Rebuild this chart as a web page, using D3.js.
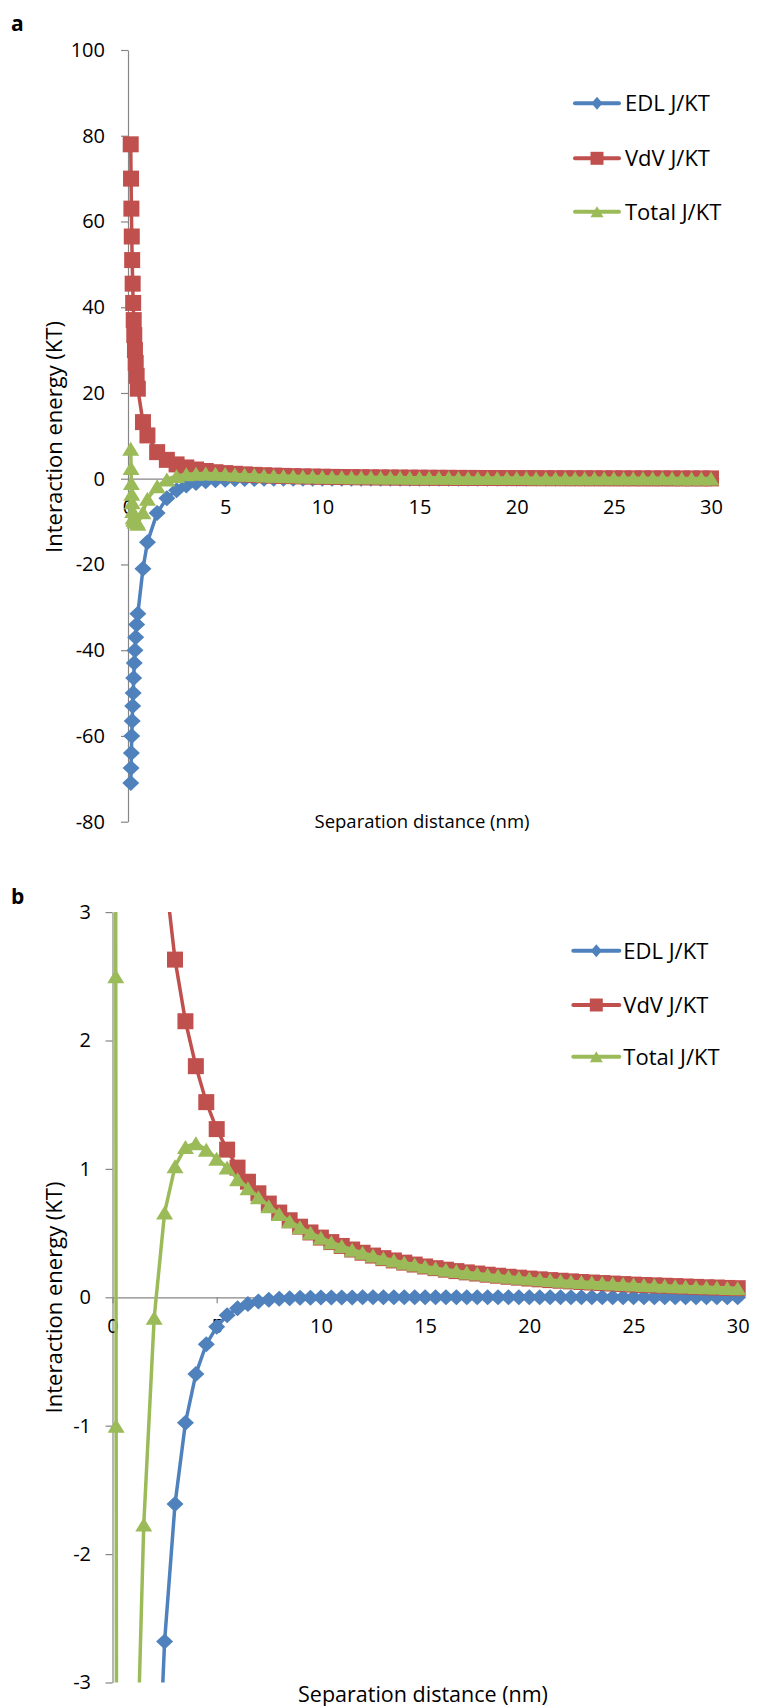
<!DOCTYPE html>
<html>
<head>
<meta charset="utf-8">
<script src="https://cdn.jsdelivr.net/npm/d3@7"></script>
<style>
  body { margin: 0; background: #fff; }
  svg { display: block; }
  text { font-family: "Open Sans", "Noto Sans", sans-serif; fill: #000; }
</style>
</head>
<body>
<svg id="fig" width="763" height="1706"></svg>
<script>
// Separation distance h (nm)
const distance = [0.14, 0.157, 0.175, 0.194, 0.215, 0.24, 0.266, 0.294, 0.323, 0.358, 0.397, 0.445, 0.506,
  0.77, 1, 1.5, 2, 2.5, 3, 3.5, 4, 4.5, 5, 5.5, 6, 6.5, 7, 7.5, 8, 8.5, 9, 9.5, 10, 10.5, 11, 11.5,
  12, 12.5, 13, 13.5, 14, 14.5, 15, 15.5, 16, 16.5, 17, 17.5, 18, 18.5, 19, 19.5, 20, 20.5, 21, 21.5,
  22, 22.5, 23, 23.5, 24, 24.5, 25, 25.5, 26, 26.5, 27, 27.5, 28, 28.5, 29, 29.5, 30];

// Electrical double layer interaction (kT)
const edlEnergy = [-71, -67.5, -64, -60, -56.5, -53, -50, -46.5, -43, -40, -37, -34, -31.5,
  -21, -14.8, -7.97, -4.56, -2.68, -1.61, -0.977, -0.597, -0.366, -0.23, -0.14,
  -0.086, -0.053, -0.032, -0.02, -0.012, -0.007, -0.004, -0.003, -0.002, -0.001, -0.001, -0.001,
  0, 0, 0, 0, 0, 0, 0, 0, 0, 0, 0, 0, 0, 0, 0, 0, 0, 0, 0, 0,
  0, 0, 0, 0, 0, 0, 0, 0, 0, 0, 0, 0, 0, 0, 0, 0, 0];

// van der Waals interaction (kT)
const vdvEnergy = [78, 70, 63, 56.5, 51, 45.5, 41, 37, 33.5, 30, 27, 24, 21,
  13.2, 10.1, 6.2, 4.4, 3.34, 2.63, 2.15, 1.80, 1.52, 1.31, 1.15,
  1.01, 0.90, 0.81, 0.73, 0.66, 0.60, 0.55, 0.505, 0.465, 0.43, 0.40, 0.372,
  0.347, 0.325, 0.305, 0.287, 0.27, 0.255, 0.24, 0.227, 0.215, 0.204, 0.194, 0.185, 0.176, 0.168, 0.16, 0.153,
  0.146, 0.14, 0.134, 0.129, 0.124, 0.119, 0.115, 0.111, 0.107, 0.103, 0.099, 0.096, 0.093, 0.09, 0.087, 0.084,
  0.081, 0.078, 0.076, 0.073, 0.071];

// Total interaction (kT)
const totalEnergy = [7, 2.5, -1, -3.5, -5.5, -7.5, -9, -9.5, -9.5, -10, -10, -10, -10.5,
  -7.8, -4.7, -1.77, -0.16, 0.66, 1.02, 1.17, 1.2, 1.15, 1.08, 1.01,
  0.92, 0.85, 0.78, 0.71, 0.648, 0.593, 0.546, 0.502, 0.463, 0.429, 0.399, 0.371,
  0.347, 0.325, 0.305, 0.287, 0.27, 0.255, 0.24, 0.227, 0.215, 0.204, 0.194, 0.185, 0.176, 0.168, 0.16, 0.153,
  0.146, 0.14, 0.134, 0.129, 0.124, 0.119, 0.115, 0.111, 0.107, 0.103, 0.099, 0.096, 0.093, 0.09, 0.087, 0.084,
  0.081, 0.078, 0.076, 0.073, 0.071];

const seriesNames = ["EDL J/KT", "VdV J/KT", "Total J/KT"];
const seriesColors = ["#4F81BD", "#C0504D", "#9BBB59"];
const seriesShapes = ["diamond", "square", "triangle"];

const xTicks = [0, 5, 10, 15, 20, 25, 30];
const yTicksA = [-80, -60, -40, -20, 0, 20, 40, 60, 80, 100];
const yTicksB = [-3, -2, -1, 0, 1, 2, 3];

const xTitle = "Separation distance (nm)";
const yTitle = "Interaction energy (KT)";

const svg = d3.select("#fig");
const axisColor = "#868686";

function markerPath(shape, w, h) {
  const hw = w / 2, hh = h / 2;
  if (shape === "diamond") return `M0,${-hh}L${hw},0L0,${hh}L${-hw},0Z`;
  if (shape === "square") return `M${-hw},${-hh}H${hw}V${hh}H${-hw}Z`;
  return `M0,${-hh}L${hw},${hh}L${-hw},${hh}Z`;
}
const chartMarker = {
  diamond: markerPath("diamond", 17, 16),
  square: markerPath("square", 16, 16),
  triangle: markerPath("triangle", 17, 14)
};
const legendMarker = {
  diamond: markerPath("diamond", 11, 13),
  square: markerPath("square", 13, 13),
  triangle: markerPath("triangle", 13, 11)
};

const series = [edlEnergy, vdvEnergy, totalEnergy].map((vals, i) => ({
  name: seriesNames[i], color: seriesColors[i], shape: seriesShapes[i],
  points: distance.map((d, j) => ({ x: d, y: vals[j] }))
}));

function drawPanel(cfg) {
  const g = svg.append("g");
  const x = d3.scaleLinear().domain([0, 30]).range(cfg.xRange);
  const y = d3.scaleLinear().domain(cfg.yDomain).range(cfg.yRange);

  // y axis
  const yAxis = g.append("g")
    .attr("transform", `translate(${cfg.xRange[0]},0)`)
    .call(d3.axisLeft(y).tickValues(cfg.yTicks).tickSize(7).tickSizeOuter(0)
      .tickPadding(cfg.yPad).tickFormat(d => String(d)));
  // x axis crossing at zero
  const xAxis = g.append("g")
    .attr("transform", `translate(0,${y(0)})`)
    .call(d3.axisBottom(x).tickValues(xTicks).tickSize(6).tickSizeOuter(0)
      .tickPadding(15.5).tickFormat(d => String(d)));
  [yAxis, xAxis].forEach(ax => {
    ax.attr("font-family", null).attr("font-size", null);
    ax.select(".domain").attr("stroke", axisColor).attr("stroke-width", 1.2);
    ax.selectAll(".tick line").attr("stroke", axisColor).attr("stroke-width", 1.2);
    ax.selectAll(".tick text").attr("fill", "#000").style("font-size", "20px");
  });

  const clipId = "clip-" + cfg.id;
  g.append("clipPath").attr("id", clipId).append("rect")
    .attr("x", cfg.xRange[0]).attr("y", cfg.yRange[1])
    .attr("width", cfg.xRange[1] - cfg.xRange[0]).attr("height", cfg.yRange[0] - cfg.yRange[1]);

  const line = d3.line().x(d => x(d.x)).y(d => y(d.y));
  const [lo, hi] = cfg.yDomain;
  series.forEach(s => {
    const sg = g.append("g");
    const path = sg.append("path").datum(s.points)
      .attr("d", line).attr("fill", "none")
      .attr("stroke", s.color).attr("stroke-width", 3.5).attr("stroke-linejoin", "round");
    if (cfg.clip) path.attr("clip-path", `url(#${clipId})`);
    sg.selectAll("path.mk")
      .data(s.points.filter(p => p.y >= lo && p.y <= hi))
      .join("path").attr("class", "mk")
      .attr("transform", p => `translate(${x(p.x)},${y(p.y)})`)
      .attr("d", chartMarker[s.shape])
      .attr("fill", s.color);
  });

  // legend
  series.forEach((s, i) => {
    const ry = cfg.legendRows[i];
    g.append("line").attr("x1", cfg.legendLine[0]).attr("x2", cfg.legendLine[1])
      .attr("y1", ry).attr("y2", ry).attr("stroke", s.color).attr("stroke-width", 4)
      .attr("stroke-linecap", "round");
    g.append("path").attr("transform", `translate(${(cfg.legendLine[0] + cfg.legendLine[1]) / 2},${ry})`)
      .attr("d", legendMarker[s.shape]).attr("fill", s.color);
    g.append("text").attr("x", cfg.legendText).attr("y", ry).attr("dy", "0.36em")
      .style("font-size", "22px").text(s.name);
  });

  // titles
  g.append("text").attr("transform", `translate(${cfg.yTitle[0]},${cfg.yTitle[1]}) rotate(-90)`)
    .attr("text-anchor", "middle").style("font-size", "22px").text(yTitle);
  g.append("text").attr("x", cfg.xTitle[0]).attr("y", cfg.xTitle[1])
    .attr("text-anchor", "middle").style("font-size", cfg.xTitleSize + "px").text(xTitle);
  g.append("text").attr("x", cfg.tag[0]).attr("y", cfg.tag[1])
    .style("font-size", "21px").style("font-weight", "bold").text(cfg.id);
}

drawPanel({
  id: "a", xRange: [128, 711], yDomain: [-80, 100], yRange: [821.7, 50], yTicks: yTicksA,
  yPad: 16, clip: false,
  legendRows: [103.3, 158.3, 211.7], legendLine: [575, 619], legendText: 625,
  yTitle: [62, 437], xTitle: [422, 828], xTitleSize: 18.5, tag: [11, 31]
});
drawPanel({
  id: "b", xRange: [112.5, 737.7], yDomain: [-3, 3], yRange: [1682.5, 912.1], yTicks: yTicksB,
  yPad: 14.5, clip: true,
  legendRows: [950.7, 1005, 1056.7], legendLine: [573.3, 619.3], legendText: 623.3,
  yTitle: [62, 1297.5], xTitle: [423, 1701.5], xTitleSize: 21.5, tag: [11, 904]
});
</script>
</body>
</html>
